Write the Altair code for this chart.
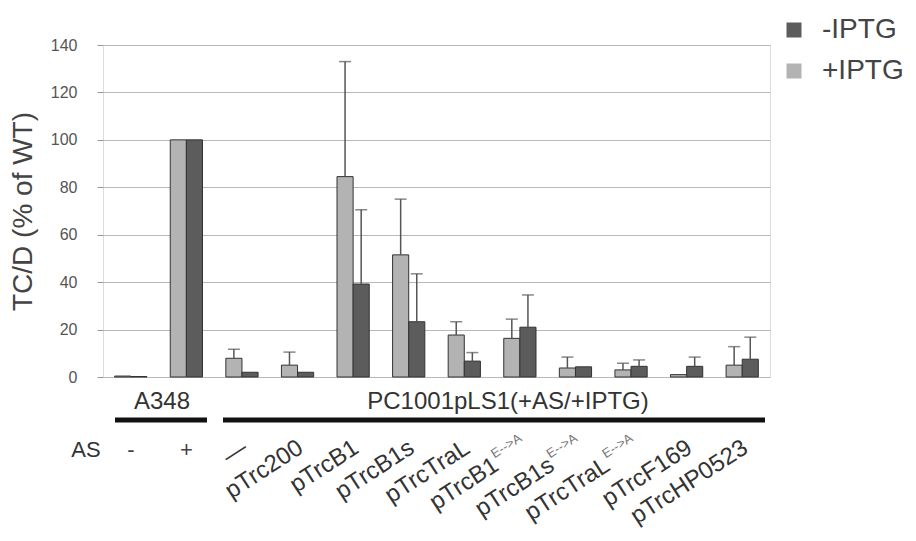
import altair as alt
import pandas as pd

# ---- data ----
group_ids = ["g1", "g2", "g3", "g4", "g5", "g6", "g7", "g8", "g9", "g10", "g11", "g12"]
group_labels = ["", "", "—", "pTrc200", "pTrcB1", "pTrcB1s", "pTrcTraL",
                "pTrcB1", "pTrcB1s", "pTrcTraL", "pTrcF169", "pTrcHP0523"]
group_sups = ["", "", "", "", "", "", "", "E-->A", "E-->A", "E-->A", "", ""]
as_groups = ["g1", "g2"]
as_signs = ["-", "+"]

plus_iptg = [0.4, 100, 7.9, 5.0, 84.5, 51.5, 17.7, 16.3, 3.8, 3.0, 1.0, 5.0]
plus_err = [None, None, 3.8, 5.5, 48.5, 23.5, 5.6, 8.1, 4.6, 2.8, None, 7.8]
minus_iptg = [0.2, 100, 2.0, 2.0, 39.2, 23.3, 6.7, 21.0, 4.3, 4.5, 4.5, 7.5]
minus_err = [None, None, None, None, 31.3, 20.2, 3.6, 13.6, None, 2.7, 3.9, 9.3]

series_order = ["+IPTG", "-IPTG"]
legend_order = ["-IPTG", "+IPTG"]
series_colors = ["#5c5c5c", "#b3b3b3"]

rows = []
for g, p, pe, m, me in zip(group_ids, plus_iptg, plus_err, minus_iptg, minus_err):
    rows.append({"group": g, "series": "+IPTG", "value": p, "err": pe})
    rows.append({"group": g, "series": "-IPTG", "value": m, "err": me})
df = pd.DataFrame(rows)

lab_df = pd.DataFrame({"group": group_ids, "label": group_labels, "sup": group_sups})
as_df = pd.DataFrame({"group": as_groups, "sign": as_signs})

FONT = "Liberation Sans"
YTITLE = "TC/D (% of WT)"

xenc = alt.X("group:N", sort=group_ids,
             scale=alt.Scale(domain=group_ids, paddingInner=0.42, paddingOuter=0.21),
             axis=None)
xoff = alt.XOffset("series:N", sort=series_order,
                   scale=alt.Scale(domain=series_order, paddingInner=0, paddingOuter=0))
yaxis = alt.Axis(values=list(range(0, 141, 20)), grid=True, gridColor="#b8b8b8",
                 gridWidth=1.2, domain=False, tickColor="#999999", tickSize=6,
                 labelFontSize=16, labelColor="#555555", labelPadding=20, labelFont=FONT,
                 titleFontSize=28, titleFont=FONT, titleColor="#444444",
                 titleFontWeight="normal", titleX=-80, titleY=166,
                 titleBaseline="middle", titleAlign="center", titleAngle=270)
yscale = alt.Scale(domain=[0, 140], nice=False)

bars = alt.Chart(df).mark_bar(stroke="#333333", strokeWidth=1).encode(
    x=xenc,
    xOffset=xoff,
    y=alt.Y("value:Q", scale=yscale, axis=yaxis, title=YTITLE),
    color=alt.Color("series:N",
                    scale=alt.Scale(domain=legend_order, range=series_colors),
                    legend=alt.Legend(title=None, orient="none", legendX=677, legendY=-29,
                                      symbolType="square", symbolSize=225,
                                      symbolStrokeWidth=0, labelFontSize=28,
                                      labelFont=FONT, labelColor="#444444",
                                      labelOffset=14, rowPadding=13, padding=0)),
)

err_base = alt.Chart(df).transform_filter("isValid(datum.err)").transform_calculate(
    upper="datum.value + datum.err")

err_rule = err_base.mark_rule(color="#555555", strokeWidth=1.5).encode(
    x=xenc, xOffset=xoff,
    y=alt.Y("value:Q", scale=yscale, title=YTITLE),
    y2="upper:Q",
)
err_cap = err_base.mark_tick(orient="horizontal", size=12, thickness=1.5,
                             color="#555555").encode(
    x=xenc, xOffset=xoff,
    y=alt.Y("upper:Q", scale=yscale, title=YTITLE),
)

# ---- annotations below the plot ----
lab_plain = alt.Chart(lab_df).transform_filter(
    "datum.label != '' && datum.sup == ''").mark_text(
    angle=327, align="right", baseline="middle", dx=4, fontSize=24,
    font=FONT, color="#333333").encode(x=xenc, y=alt.value(403), text="label:N")

lab_main = alt.Chart(lab_df).transform_filter("datum.sup != ''").mark_text(
    angle=327, align="right", baseline="middle", dx=-28, fontSize=24,
    font=FONT, color="#333333").encode(x=xenc, y=alt.value(403), text="label:N")

lab_sup = alt.Chart(lab_df).transform_filter("datum.sup != ''").mark_text(
    angle=327, align="left", baseline="middle", dx=-27, dy=-9, fontSize=13,
    font=FONT, color="#777777").encode(x=xenc, y=alt.value(403), text="sup:N")

as_signs_layer = alt.Chart(as_df).mark_text(
    fontSize=22, font=FONT, color="#444444", baseline="middle").encode(
    x=xenc, y=alt.value(405), text="sign:N")

ann_df = pd.DataFrame({"t": ["A348", "PC1001pLS1(+AS/+IPTG)", "AS"]})
a348_txt = alt.Chart(ann_df).transform_filter("datum.t == 'A348'").mark_text(
    fontSize=24, font=FONT, color="#333333", baseline="middle").encode(
    x=alt.value(59), y=alt.value(357), text="t:N")
pc_txt = alt.Chart(ann_df).transform_filter("datum.t == 'PC1001pLS1(+AS/+IPTG)'").mark_text(
    fontSize=24, font=FONT, color="#333333", baseline="middle").encode(
    x=alt.value(405), y=alt.value(357), text="t:N")
as_txt = alt.Chart(ann_df).transform_filter("datum.t == 'AS'").mark_text(
    fontSize=22, font=FONT, color="#333333", baseline="middle").encode(
    x=alt.value(-17), y=alt.value(405), text="t:N")

br1 = alt.Chart(ann_df).transform_filter("datum.t == 'A348'").mark_rule(
    color="#111111", strokeWidth=5).encode(
    x=alt.value(12), x2=alt.value(104), y=alt.value(375))
br2 = alt.Chart(ann_df).transform_filter("datum.t == 'A348'").mark_rule(
    color="#111111", strokeWidth=5).encode(
    x=alt.value(120), x2=alt.value(662), y=alt.value(375))

chart = alt.layer(
    bars, err_rule, err_cap, lab_plain, lab_main, lab_sup, as_signs_layer,
    a348_txt, pc_txt, as_txt, br1, br2,
).properties(
    width=667, height=332,
    autosize=alt.AutoSizeParams(type="none"),
    padding={"left": 103, "top": 45, "right": 146, "bottom": 164},
).configure_view(stroke="#999999", strokeWidth=1.5).configure(background="white")

chart.save("out.html", embed_options={"renderer": "svg", "actions": False})
